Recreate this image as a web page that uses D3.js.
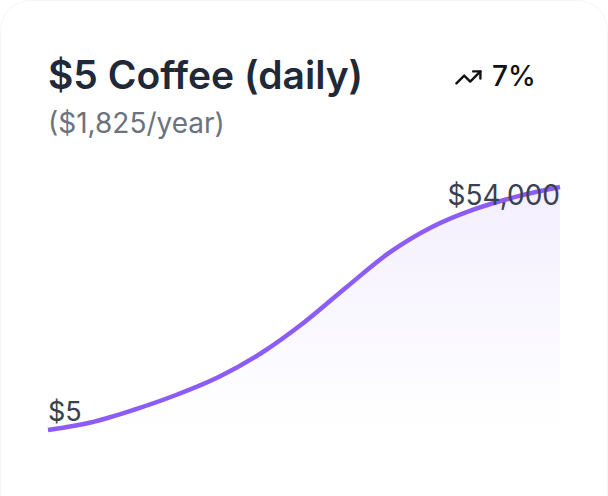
<!DOCTYPE html>
<html>
<head>
<meta charset="utf-8">
<script src="https://cdn.jsdelivr.net/npm/d3@7"></script>
<style>
  html, body { margin: 0; padding: 0; background: #ffffff; }
  svg { display: block; font-family: Inter, "Noto Sans", sans-serif; }
</style>
</head>
<body>
<svg id="chart" width="608" height="496"></svg>
<script>
const title = "$5 Coffee (daily)";
const subtitle = "($1,825/year)";
const rateLabel = "7%";
const years = [0, 1, 2, 3, 4, 5, 6, 7, 8, 9, 10, 11, 12];
const values = [5, 1670, 4450, 7780, 11780, 17110, 23890, 31780, 39400, 45110, 49070, 51920, 54000];
const startLabel = "$5";
const endLabel = "$54,000";

const svg = d3.select("#chart");
const W = 608, H = 496;

svg.append("rect")
  .attr("x", 0.5).attr("y", 0.5)
  .attr("width", W - 1).attr("height", H + 40)
  .attr("rx", 30).attr("ry", 30)
  .attr("fill", "#ffffff")
  .attr("stroke", "#f6f6f8").attr("stroke-width", 1);

const defs = svg.append("defs");
const grad = defs.append("linearGradient")
  .attr("id", "areaGrad").attr("x1", 0).attr("y1", 0).attr("x2", 0).attr("y2", 1);
grad.append("stop").attr("offset", "0%").attr("stop-color", "#8b5cf6").attr("stop-opacity", 0.1);
grad.append("stop").attr("offset", "100%").attr("stop-color", "#8b5cf6").attr("stop-opacity", 0.0);

const x = d3.scaleLinear().domain(d3.extent(years)).range([48, 560]);
const y = d3.scaleLinear().domain([5, 54000]).range([430, 187]);

const data = years.map((yr, i) => ({ yr, v: values[i] }));

const area = d3.area()
  .x(d => x(d.yr))
  .y0(y(5))
  .y1(d => y(d.v))
  .curve(d3.curveMonotoneX);

const line = d3.line()
  .x(d => x(d.yr))
  .y(d => y(d.v))
  .curve(d3.curveMonotoneX);

svg.append("path").datum(data)
  .attr("d", area)
  .attr("fill", "url(#areaGrad)");

svg.append("path").datum(data)
  .attr("d", line)
  .attr("fill", "none")
  .attr("stroke", "#8b5cf6")
  .attr("stroke-width", 4.5)
  .attr("stroke-linecap", "butt");

// Title
svg.append("text")
  .attr("x", 48).attr("y", 89)
  .attr("font-size", 39).attr("font-weight", 600)
  .attr("fill", "#1f2937")
  .text(title);

svg.append("text")
  .attr("x", 48).attr("y", 133)
  .attr("font-size", 28).attr("font-weight", 400)
  .attr("fill", "#6b7280")
  .text(subtitle);

// trending-up icon
const icon = svg.append("g")
  .attr("transform", "translate(454,63) scale(1.2)")
  .attr("fill", "none").attr("stroke", "#111111")
  .attr("stroke-width", 2).attr("stroke-linecap", "round").attr("stroke-linejoin", "round");
icon.append("polyline").attr("points", "22 7 13.5 15.5 8.5 10.5 2 17");
icon.append("polyline").attr("points", "16 7 22 7 22 13");

svg.append("text")
  .attr("x", 492).attr("y", 86)
  .attr("font-size", 28).attr("font-weight", 500)
  .attr("fill", "#111111")
  .text(rateLabel);

// value labels
svg.append("text")
  .attr("x", x(years[0])).attr("y", 421)
  .attr("font-size", 27).attr("fill", "#374151")
  .text(startLabel);

svg.append("text")
  .attr("x", x(years[years.length - 1])).attr("y", 205)
  .attr("text-anchor", "end")
  .attr("font-size", 28).attr("fill", "#374151")
  .text(endLabel);
</script>
</body>
</html>
